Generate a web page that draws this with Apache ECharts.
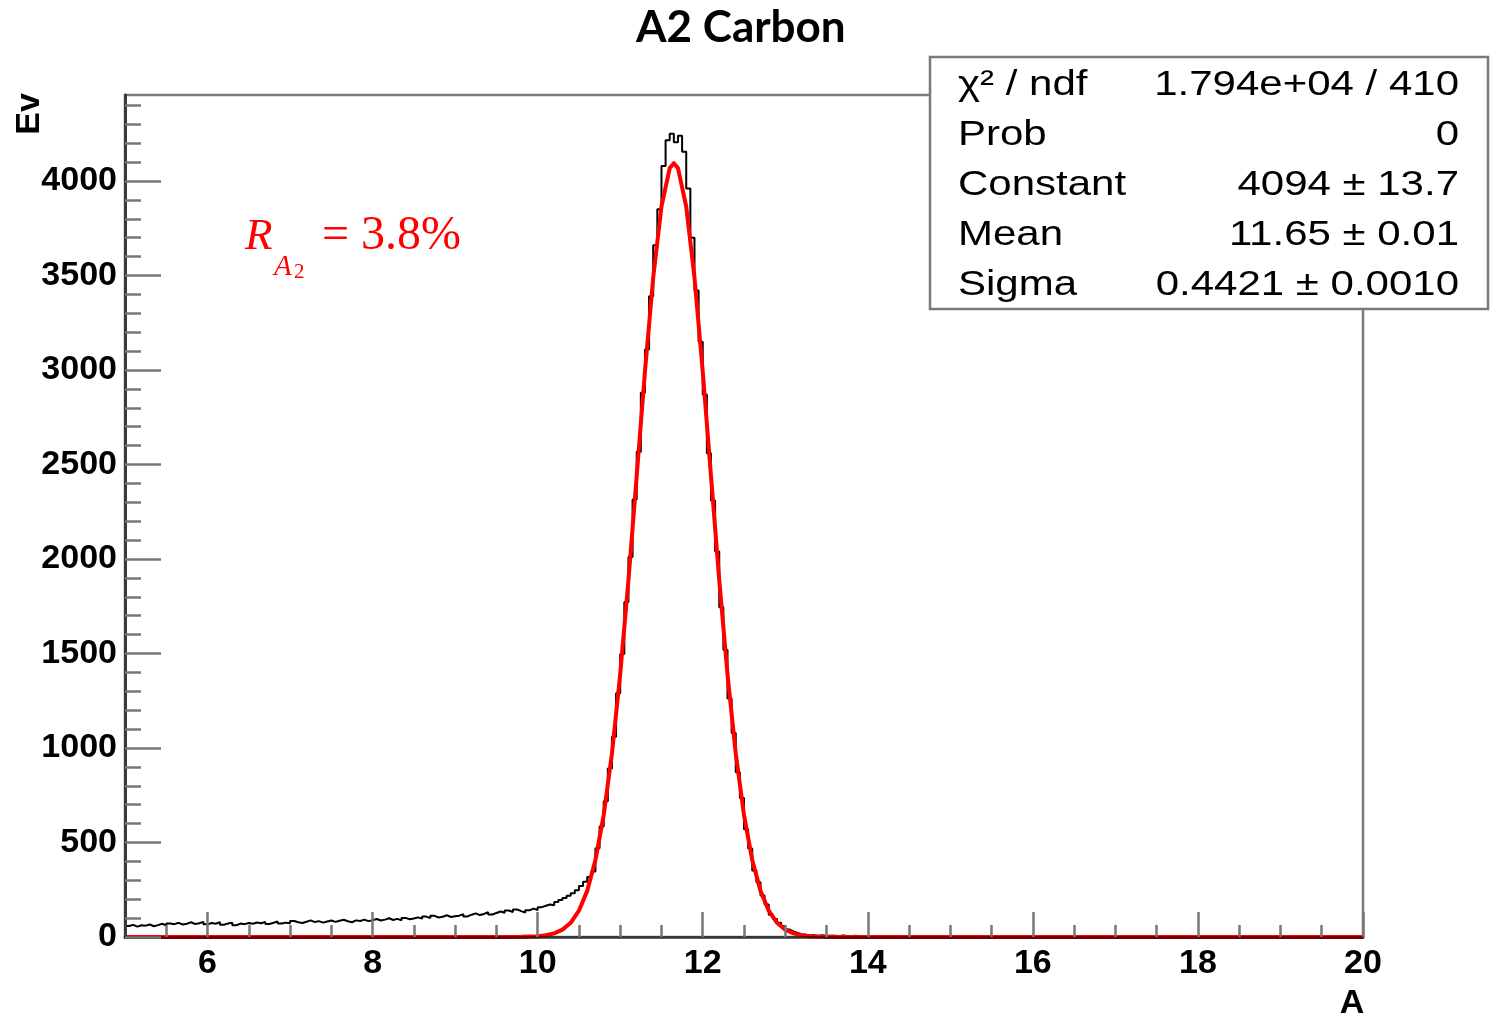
<!DOCTYPE html>
<html>
<head>
<meta charset="utf-8">
<script src="https://cdn.jsdelivr.net/npm/echarts@6/dist/echarts.min.js"></script>
<style>
  html, body { margin: 0; padding: 0; background: #fff; }
  #chart { width: 1496px; height: 1020px; }
</style>
</head>
<body>
<div id="chart"></div>
<script>
// Histogram of reconstructed A: 300 bins of width 0.05 from 5 to 20
const binStart = 5;
const binWidth = 0.05;
const counts = [
  58, 64, 55, 62, 60, 66, 57, 63, 70, 61,
  72, 68, 75, 66, 70, 78, 69, 73, 80, 67,
  74, 70, 79, 65, 72, 76, 62, 71, 68, 74,
  70, 77, 73, 80, 69, 75, 82, 71, 76, 73,
  85, 78, 74, 81, 88, 79, 84, 76, 82, 87,
  80, 86, 91, 83, 78, 88, 85, 92, 84, 89,
  95, 87, 92, 99, 90, 96, 88, 101, 94, 98,
  104, 97, 108, 100, 112, 103, 107, 115, 106, 110,
  113, 120, 109, 118, 125, 116, 122, 131, 119, 127,
  135, 128, 140, 132, 146, 137, 129, 141, 150, 143,
  158, 165, 172, 168, 185, 196, 207, 218, 232, 248,
  270, 292, 318, 346, 470, 585, 718, 892, 1060, 1290,
  1498, 1772, 2010, 2315, 2568, 2880, 3108, 3390, 3660, 3850,
  4080, 4215, 4250, 4205, 4240, 4155, 3960, 3700, 3420, 3150,
  2870, 2560, 2310, 2040, 1745, 1520, 1262, 1080, 872, 735,
  570, 468, 352, 290, 220, 172, 118, 95, 75, 58,
  40, 30, 22, 15, 12, 8, 10, 6, 9, 5,
  7, 6, 4, 8, 5, 3, 7, 4, 2, 5,
  3, 6, 2, 4, 3, 1, 5, 2, 3, 4,
  1, 2, 3, 0, 2, 4, 1, 3, 2, 1,
  2, 5, 1, 3, 2, 0, 2, 1, 3, 1,
  0, 2, 1, 0, 1, 2, 0, 1, 0, 1,
  0, 1, 0, 0, 1, 0, 0, 0, 1, 0,
  0, 0, 0, 0, 0, 0, 0, 0, 0, 0,
  0, 0, 0, 0, 0, 0, 0, 0, 0, 0,
  0, 0, 0, 0, 0, 0, 0, 0, 0, 0,
  0, 0, 0, 0, 0, 0, 0, 0, 0, 0,
  0, 0, 0, 0, 0, 0, 0, 0, 0, 0,
  0, 0, 0, 0, 0, 0, 0, 0, 0, 0,
  0, 0, 0, 0, 0, 0, 0, 0, 0, 0
];

// Gaussian fit curve (Constant 4094, Mean 11.65, Sigma 0.4421), sampled points
const fitX = [5, 9.6, 9.8, 10.0, 10.1, 10.2, 10.3, 10.4, 10.5, 10.6, 10.7, 10.8, 10.9, 11.0,
  11.1, 11.2, 11.3, 11.4, 11.5, 11.6, 11.65, 11.7, 11.8, 11.9, 12.0, 12.1, 12.2, 12.3,
  12.4, 12.5, 12.6, 12.7, 12.8, 12.9, 13.0, 13.1, 13.2, 13.3, 13.4, 13.5, 13.7, 20];
const fitY = [0, 0, 1, 4, 9, 19, 39, 75, 139, 244, 407, 645, 971, 1390,
  1889, 2439, 2993, 3489, 3865, 4068, 4094, 4068, 3865, 3489, 2993, 2439, 1889, 1390,
  971, 645, 407, 244, 139, 75, 39, 19, 9, 4, 2, 1, 0, 0];

// Axis ticks and labels
const xMajorTicks = [6, 8, 10, 12, 14, 16, 18, 20];
const xMinorTicks = [5.5, 6, 6.5, 7, 7.5, 8, 8.5, 9, 9.5, 10, 10.5, 11, 11.5, 12, 12.5, 13,
  13.5, 14, 14.5, 15, 15.5, 16, 16.5, 17, 17.5, 18, 18.5, 19, 19.5];
const yMajorTicks = [0, 500, 1000, 1500, 2000, 2500, 3000, 3500, 4000];
const yMinorTicks = [];
for (let v = 100; v <= 4400; v += 100) yMinorTicks.push(v);

// Fit statistics box
const statNames = ['χ² / ndf', 'Prob', 'Constant', 'Mean', 'Sigma'];
const statValues = ['1.794e+04 / 410', '0', '4094 ± 13.7', '11.65 ± 0.01', '0.4421 ± 0.0010'];

const titleText = 'A2 Carbon';
const xTitle = 'A';
const yTitle = 'Ev';

// Build histogram step points (left bin edges, closing at the upper range)
const histPoints = counts.map((c, i) => [binStart + i * binWidth, c]);
histPoints.push([binStart + counts.length * binWidth, counts[counts.length - 1]]);
const fitPoints = fitX.map((x, i) => [x, fitY[i]]);

const chart = echarts.init(document.getElementById('chart'));

const axisFont = '"Liberation Sans", Arial, Helvetica, sans-serif';
const statFont = '35px "Liberation Sans", Arial, sans-serif';

const graphics = [];
graphics.push({
  type: 'rect', z: 100,
  shape: { x: 930, y: 57, width: 558, height: 252 },
  style: { fill: '#fff', stroke: '#7a7a7a', lineWidth: 2.5 }
});
statNames.forEach((name, i) => {
  const cy = 85 + i * 50;
  graphics.push({
    type: 'text', z: 101, x: 958, y: cy, scaleX: 1.2,
    style: { text: name, font: statFont, fill: '#000', align: 'left', verticalAlign: 'middle' }
  });
  graphics.push({
    type: 'text', z: 101, x: 1459, y: cy, scaleX: 1.2,
    style: { text: statValues[i], font: statFont, fill: '#000', align: 'right', verticalAlign: 'middle' }
  });
});
// Resolution annotation
const serif = '"Liberation Serif", "Times New Roman", serif';
graphics.push({ type: 'text', z: 50, x: 245, y: 237,
  style: { text: 'R', font: 'italic 45px ' + serif, fill: '#ff0000', align: 'left', verticalAlign: 'middle' } });
graphics.push({ type: 'text', z: 50, x: 274, y: 267,
  style: { text: 'A', font: 'italic 29px ' + serif, fill: '#ff0000', align: 'left', verticalAlign: 'middle' } });
graphics.push({ type: 'text', z: 50, x: 294, y: 272,
  style: { text: '2', font: '21px ' + serif, fill: '#ff0000', align: 'left', verticalAlign: 'middle' } });
graphics.push({ type: 'text', z: 50, x: 322, y: 236,
  style: { text: '= 3.8%', font: '48px ' + serif, fill: '#ff0000', align: 'left', verticalAlign: 'middle' } });
// Axis titles
graphics.push({ type: 'text', z: 50, x: 30, y: 114, rotation: Math.PI / 2,
  style: { text: yTitle, font: 'bold 34px ' + axisFont, fill: '#000', align: 'center', verticalAlign: 'middle' } });
graphics.push({ type: 'text', z: 50, x: 1352, y: 1004,
  style: { text: xTitle, font: 'bold 34px ' + axisFont, fill: '#000', align: 'center', verticalAlign: 'middle' } });

const plainNumber = v => String(v);

const option = {
  animation: false,
  backgroundColor: '#fff',
  title: {
    text: titleText,
    left: 631, top: 1,
    textStyle: { fontFamily: 'Lato, "Open Sans", sans-serif', fontWeight: 'bold', fontSize: 44, color: '#000' }
  },
  grid: {
    left: 125, right: 133, top: 95, bottom: 83,
    show: true, borderColor: '#7a7a7a', borderWidth: 2.5, backgroundColor: 'transparent'
  },
  xAxis: [
    {
      type: 'value', min: 5, max: 20, position: 'bottom', z: 10,
      axisLine: { show: true, onZero: false, lineStyle: { color: 'rgba(0,0,0,0.55)', width: 3 } },
      axisTick: { show: true, inside: true, length: 25, customValues: xMajorTicks,
        lineStyle: { color: '#777', width: 2.5 } },
      axisLabel: { show: true, customValues: xMajorTicks, margin: 10, formatter: plainNumber,
        fontFamily: axisFont, fontWeight: 'bold', fontSize: 34, color: '#000' },
      splitLine: { show: false }
    },
    {
      type: 'value', min: 5, max: 20, position: 'bottom', z: 10,
      axisLine: { show: false },
      axisTick: { show: true, inside: true, length: 12, customValues: xMinorTicks,
        lineStyle: { color: '#777', width: 2.5 } },
      axisLabel: { show: false },
      splitLine: { show: false }
    }
  ],
  yAxis: [
    {
      type: 'value', min: 0, max: 4455, position: 'left', z: 10,
      axisLine: { show: true, onZero: false, lineStyle: { color: '#3a3a3a', width: 3 } },
      axisTick: { show: true, inside: true, length: 36, customValues: yMajorTicks,
        lineStyle: { color: '#777', width: 2.5 } },
      axisLabel: { show: true, customValues: yMajorTicks, margin: 8, formatter: plainNumber,
        fontFamily: axisFont, fontWeight: 'bold', fontSize: 34, color: '#000' },
      splitLine: { show: false }
    },
    {
      type: 'value', min: 0, max: 4455, position: 'left', z: 10,
      axisLine: { show: false },
      axisTick: { show: true, inside: true, length: 16, customValues: yMinorTicks,
        lineStyle: { color: '#777', width: 2.5 } },
      axisLabel: { show: false },
      splitLine: { show: false }
    }
  ],
  series: [
    {
      name: 'histogram', type: 'line', step: 'end',
      xAxisIndex: 0, yAxisIndex: 0,
      data: histPoints, showSymbol: false, symbol: 'none',
      lineStyle: { color: '#000', width: 2 },
      z: 3
    },
    {
      name: 'gaus fit', type: 'line',
      xAxisIndex: 0, yAxisIndex: 0,
      data: fitPoints, showSymbol: false, symbol: 'none', smooth: false,
      lineStyle: { color: '#ff0000', width: 4, join: 'round' },
      z: 4
    }
  ],
  graphic: { elements: graphics }
};

chart.setOption(option);
</script>
</body>
</html>
